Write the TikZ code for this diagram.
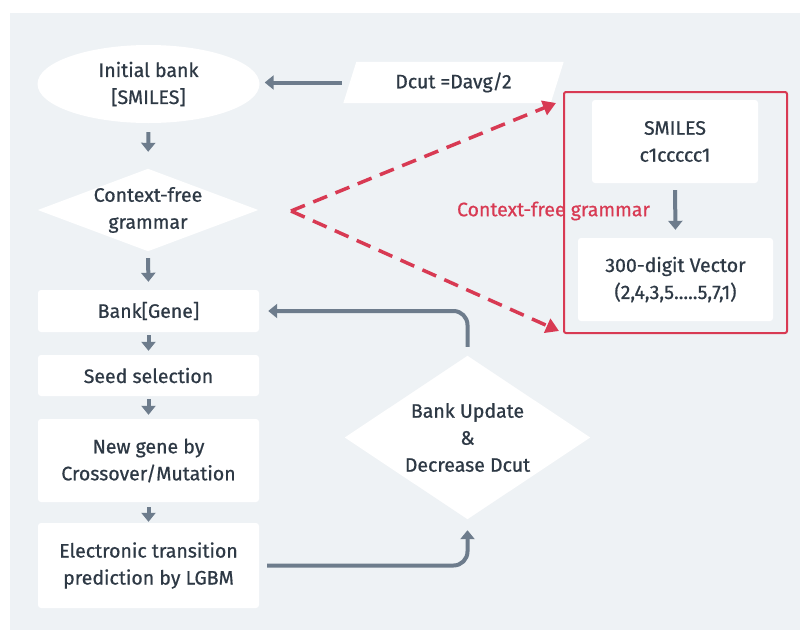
\documentclass[tikz,border=0pt]{standalone}
\usepackage{fontspec}
\setmainfont{Fira Sans}[UprightFeatures={FakeBold=0.7}]
\usetikzlibrary{shapes.geometric,arrows.meta,calc}
\definecolor{bgc}{HTML}{EEF2F5}
\definecolor{txt}{HTML}{2E3945}
\definecolor{arr}{HTML}{6D7C8C}
\definecolor{redc}{HTML}{D83A53}
\begin{document}
\begin{tikzpicture}[x=1pt,y=-1pt,
  every node/.style={text=txt, align=center, font=\fontsize{19.5}{27}\selectfont, inner sep=0pt},
  box/.style={fill=white, rounded corners=3pt, minimum width=221pt},
  flow/.style={draw=arr, line width=4pt, -{Triangle[width=14pt,length=9pt]}},
  redarr/.style={draw=redc, line width=3.5pt, dash pattern=on 15pt off 9pt, -{Triangle[width=15pt,length=13pt]}}
]
\path[use as bounding box] (0,0) rectangle (800,630);
\fill[white] (0,0) rectangle (800,630);
\fill[bgc] (10,13) rectangle (800,630);

% left column
\node[shape=ellipse, fill=white, minimum width=222pt, minimum height=78pt] (init) at (148.5,84) {Initial bank\\{[SMILES]}};
\node[minimum width=220pt, minimum height=82pt] (cfg) at (148,210) {};
\fill[white] (cfg.west) -- (cfg.north) -- (cfg.east) -- (cfg.south) -- cycle;
\node at (cfg.center) {Context-free\\grammar};
\node[box, minimum height=42pt] (bank) at (148.5,311) {Bank[Gene]};
\node[box, minimum height=41pt] (seed) at (148.5,375.5) {Seed selection};
\node[box, minimum height=83pt] (newg) at (148.5,460.5) {New gene by\\Crossover/Mutation};
\node[box, minimum height=85pt] (elec) at (148.5,565.5) {Electronic transition\\prediction by LGBM};

% Dcut parallelogram
\node[minimum width=207pt, minimum height=41pt] (dcut) at (453.5,82.5) {};
\fill[white] ($(dcut.south west)+(-6.5,0)$) -- ($(dcut.north west)+(6.5,0)$) -- ($(dcut.north east)+(6.5,0)$) -- ($(dcut.south east)+(-6.5,0)$) -- cycle;
\node at (dcut.center) {Dcut =Davg/2};

% update diamond
\node[minimum width=245pt, minimum height=163pt] (upd) at (467.5,437.5) {};
\fill[white] (upd.west) -- (upd.north) -- (upd.east) -- (upd.south) -- cycle;
\node at (upd.center) {Bank Update\\\&\\Decrease Dcut};

% right group
\node[draw=redc, line width=2pt, rounded corners=2pt, minimum width=223pt, minimum height=241pt] (grp) at (675.5,212.5) {};
\node[box, minimum width=166pt, minimum height=83pt] (smi) at (675,141.5) {SMILES\\c1ccccc1};
\node[box, minimum width=195pt, minimum height=83pt] (vec) at (675.5,279.5) {300-digit Vector\\(2,4,3,5.....5,7,1)};
\node[text=redc] (cfgl) at (553.5,211) {Context-free grammar};

% connectors
\draw[flow, shorten <=9pt, shorten >=17pt] (init.south) -- (cfg.north);
\draw[flow, shorten <=7pt, shorten >=8pt] (cfg.south) -- (bank.north);
\draw[flow, shorten <=3pt, shorten >=4pt] (bank.south) -- (seed.north);
\draw[flow, shorten <=3pt, shorten >=4pt] (seed.south) -- (newg.north);
\draw[flow, shorten <=5pt, shorten >=1pt] (newg.south) -- (elec.north);
\draw[flow, shorten <=8pt, shorten >=5pt] (dcut.west) -- (dcut.west -| init.east);
\draw[flow, shorten <=8pt, shorten >=11pt, rounded corners=14pt] (elec.east) -| (upd.south);
\draw[flow, shorten <=9pt, shorten >=9pt, rounded corners=14pt] (upd.north) |- (bank.east);
\draw[flow, shorten <=7pt, shorten >=8pt] (smi.south) -- (vec.north);

\coordinate (apex) at (291,211);
\draw[redarr] (apex) -- ($(grp.north west)+(-7,12)$);
\draw[redarr] (apex) -- ($(grp.south west)+(-4,-3)$);
\end{tikzpicture}
\end{document}
